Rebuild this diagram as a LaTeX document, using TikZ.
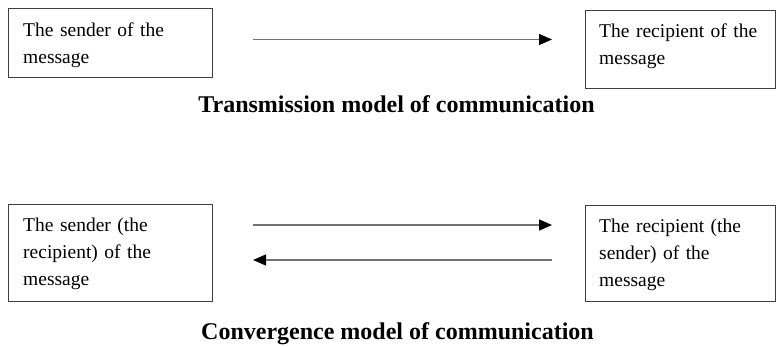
\documentclass[tikz,border=0pt]{standalone}
\usepackage{fontspec}
\setmainfont{Liberation Serif}
\usetikzlibrary{arrows.meta,calc}

\tikzset{
  box/.style={draw=black!75, line width=1.4pt, anchor=north west, inner sep=0pt},
  boxtext/.style={anchor=base west, inner sep=0pt, text width=180pt, align=left,
    font=\fontsize{19.5}{27}\selectfont},
  caption/.style={anchor=base, inner sep=0pt, font=\fontsize{24}{28}\selectfont\bfseries},
  flow/.style={draw=black!55, line width=1.5pt,
    -{Triangle[length=13pt,width=11pt,fill=black,color=black]}},
}

\begin{document}
\begin{tikzpicture}[x=1pt,y=-1pt]
  \useasboundingbox (0,0) rectangle (776,346);

  % Transmission model
  \node[box, minimum width=204pt, minimum height=69pt] (s1) at (8,8) {};
  \node[box, minimum width=190pt, minimum height=78pt] (r1) at (585,10) {};
  \node[boxtext] (s1t) at ($(s1.north west)+(15,28)$) {The sender of the\\message};
  \node[boxtext] (r1t) at ($(r1.north west)+(14,27)$) {The recipient of the\\message};
  \draw[flow] ($(s1.north west)+(245,31.5)$) -- ($(r1.north west)+(-33,29.5)$);
  \node[caption] (c1) at (396.5,112) {Transmission model of communication};

  % Convergence model
  \node[box, minimum width=204pt, minimum height=97pt] (s2) at (8,204) {};
  \node[box, minimum width=190pt, minimum height=96pt] (r2) at (585,205) {};
  \node[boxtext] (s2t) at ($(s2.north west)+(15,27)$) {The sender (the\\recipient) of the\\message};
  \node[boxtext] (r2t) at ($(r2.north west)+(14,27)$) {The recipient (the\\sender) of the\\message};
  \draw[flow] ($(s2.north west)+(245,21)$) -- ($(r2.north west)+(-33,20)$);
  \draw[flow] ($(r2.north west)+(-33,55)$) -- ($(s2.north west)+(245,56)$);
  \node[caption] (c2) at (397.5,339) {Convergence model of communication};
\end{tikzpicture}
\end{document}
